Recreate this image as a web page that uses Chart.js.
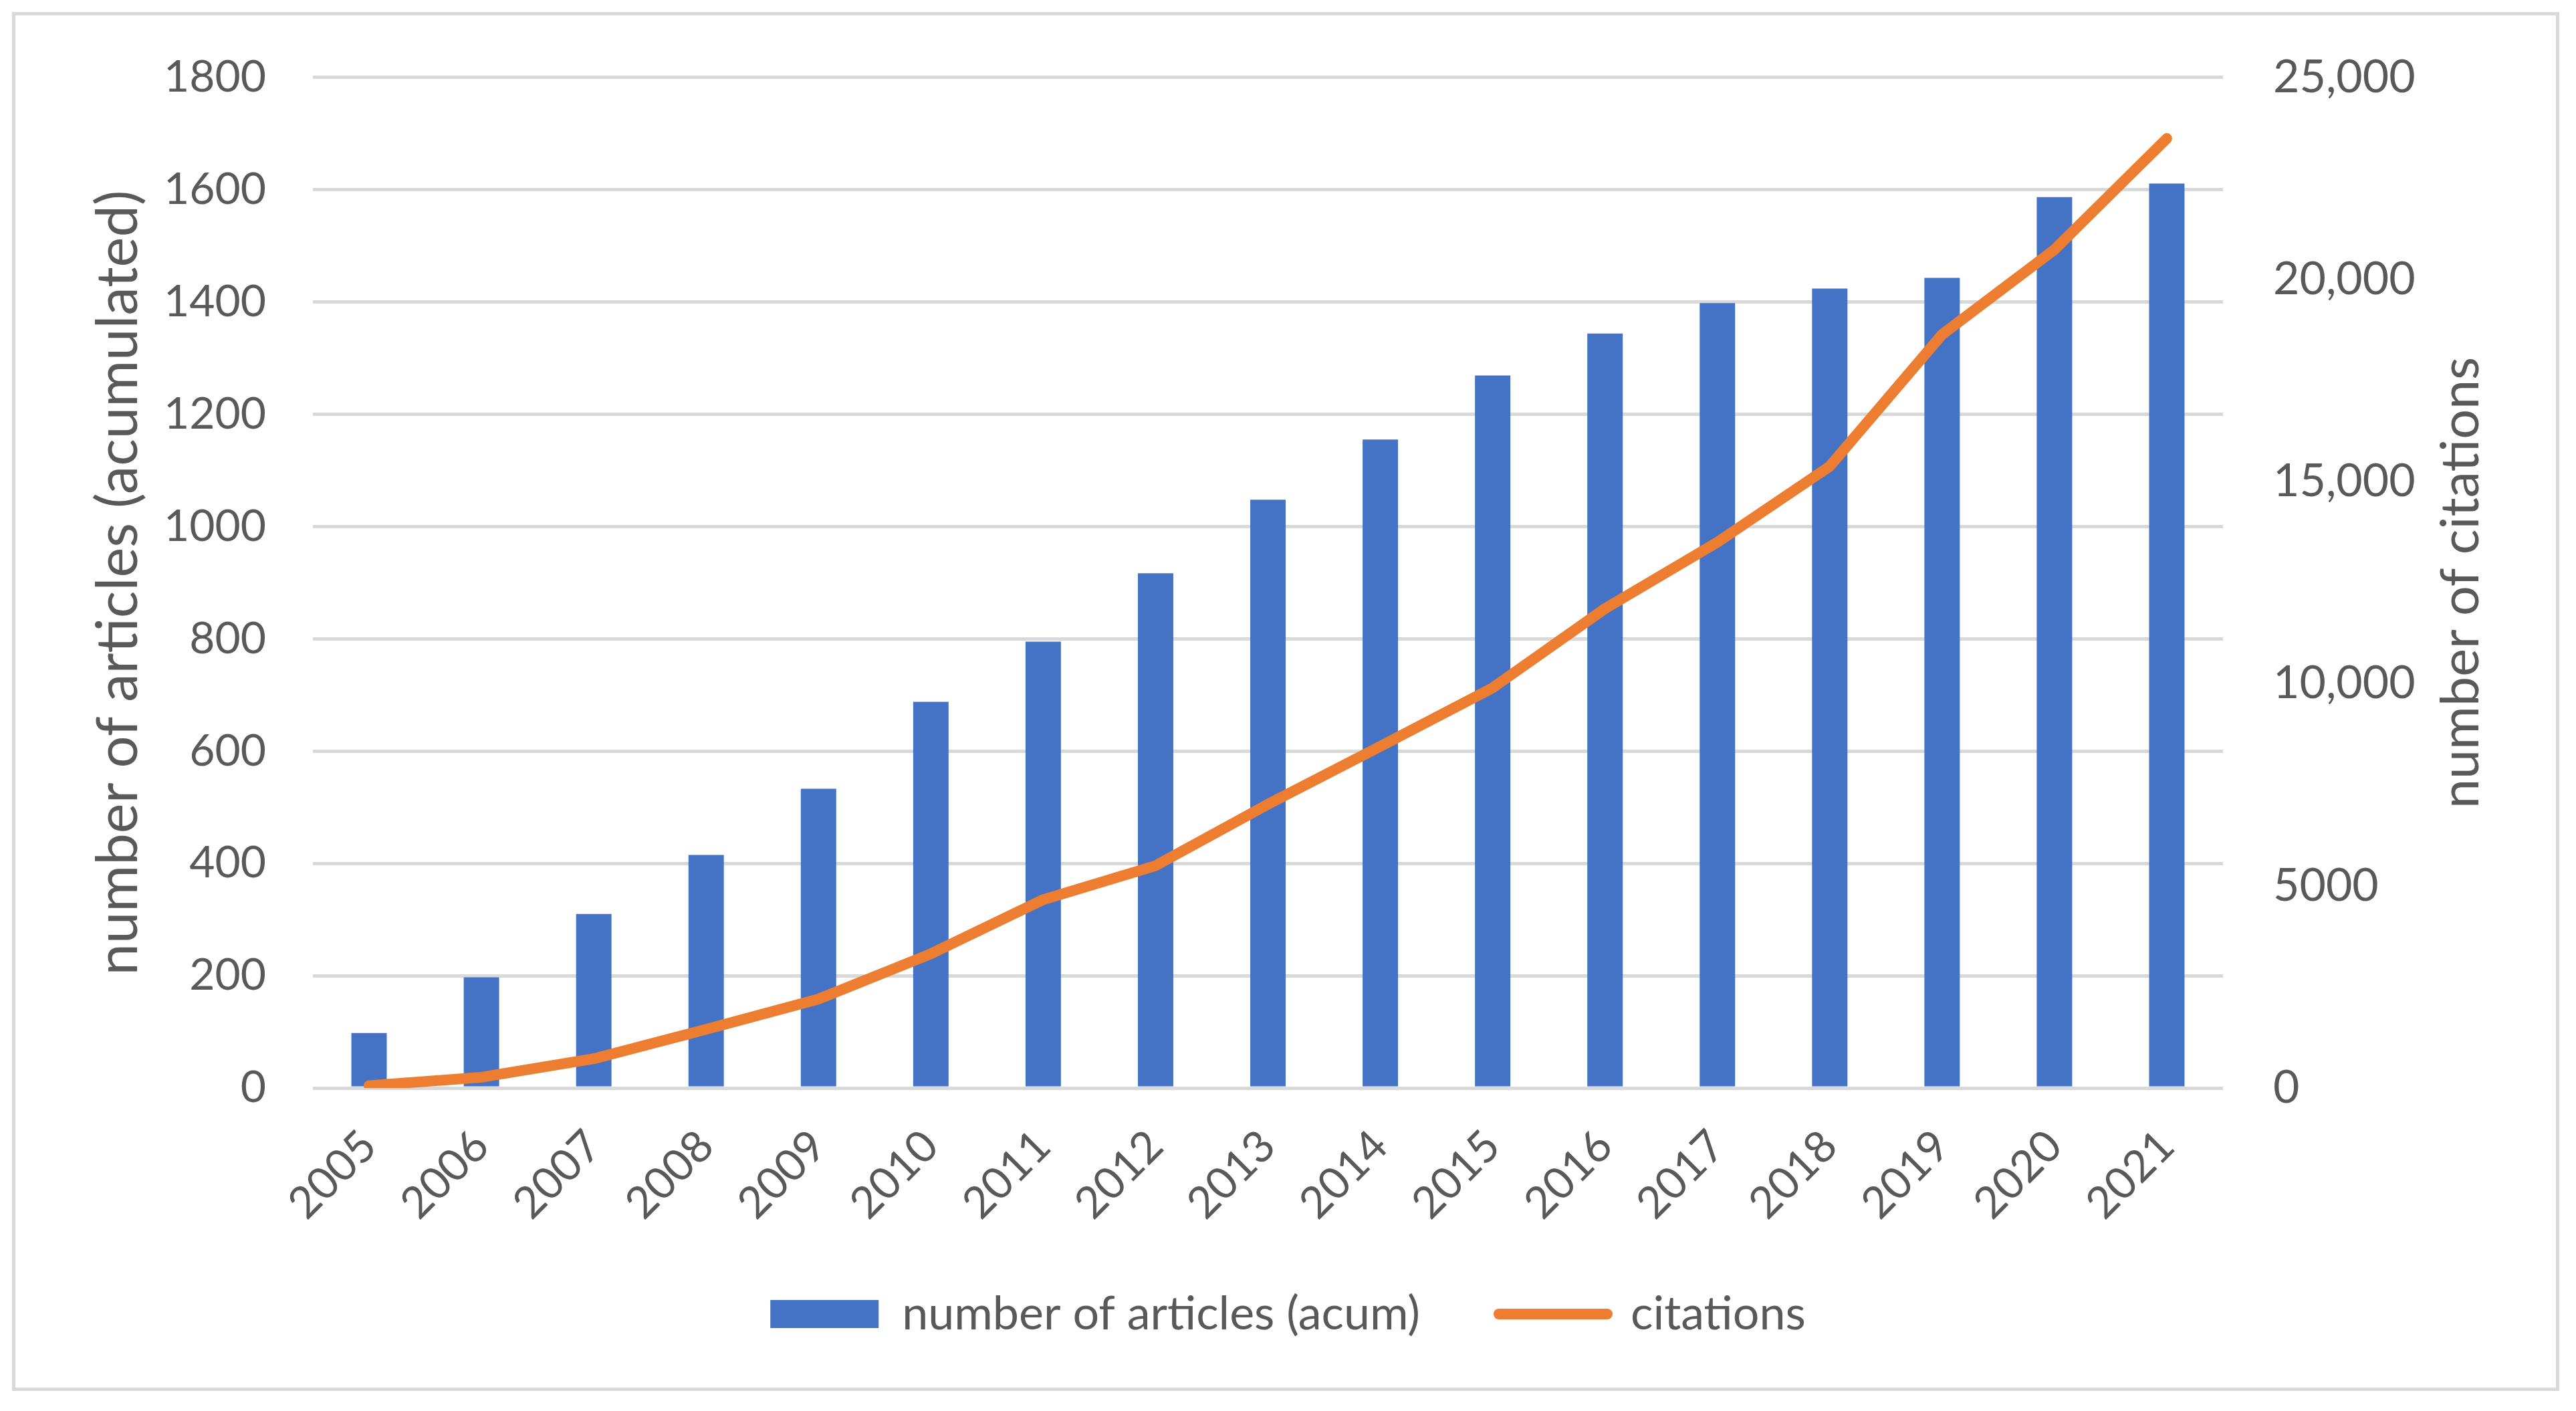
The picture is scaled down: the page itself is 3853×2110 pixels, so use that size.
<!DOCTYPE html>
<html>
<head>
<meta charset="utf-8">
<script src="https://cdn.jsdelivr.net/npm/chart.js@4"></script>
<style>
  html, body { margin: 0; padding: 0; background: #fff; }
  #wrap { position: relative; width: 3853px; height: 2110px; }
  #frame {
    position: absolute; left: 18px; top: 18px; width: 3810px; height: 2062px;
    border: 5px solid #d9d9d9; box-sizing: border-box; pointer-events: none;
  }
  canvas { position: absolute; left: 0; top: 0; }
</style>
</head>
<body>
<div id="wrap">
  <canvas id="chart" width="3853" height="2110"></canvas>
  <div id="frame"></div>
</div>
<script>
// data
const years = ["2005", "2006", "2007", "2008", "2009", "2010", "2011", "2012", "2013",
  "2014", "2015", "2016", "2017", "2018", "2019", "2020", "2021"];
const articlesAcum = [98, 197, 310, 415, 533, 688, 795, 917, 1048, 1155, 1269, 1344, 1398,
  1424, 1443, 1587, 1611];
const citations = [60, 265, 725, 1450, 2200, 3320, 4660, 5500, 7020, 8450, 9900, 11860,
  13500, 15380, 18640, 20740, 23490];

const textColor = "#595959";
const gridColor = "#d9d9d9";
const fontFamily = "Lato, 'Open Sans', sans-serif";
const rightTitle = "number of citations";

Chart.defaults.font.family = fontFamily;
Chart.defaults.color = textColor;

// right axis title reads bottom-to-top like the left one (Excel style)
const rightTitlePlugin = {
  id: "rightTitle",
  afterDraw(chart) {
    const { ctx, chartArea } = chart;
    ctx.save();
    ctx.translate(3682, (chartArea.top + chartArea.bottom) / 2);
    ctx.rotate(-Math.PI / 2);
    ctx.font = "79px " + fontFamily;
    ctx.fillStyle = textColor;
    ctx.textAlign = "center";
    ctx.textBaseline = "middle";
    ctx.fillText(rightTitle, 0, 0);
    ctx.restore();
  },
};

new Chart(document.getElementById("chart"), {
  type: "bar",
  data: {
    labels: years,
    datasets: [
      {
        type: "bar",
        label: "number of articles (acum)",
        data: articlesAcum,
        backgroundColor: "#4472c4",
        borderWidth: 0,
        barPercentage: 0.315,
        categoryPercentage: 1,
        yAxisID: "y",
        order: 1,
      },
      {
        type: "line",
        label: "citations",
        data: citations,
        borderColor: "#ed7d31",
        backgroundColor: "#ed7d31",
        borderWidth: 16,
        borderCapStyle: "round",
        borderJoinStyle: "round",
        pointRadius: 0,
        tension: 0,
        yAxisID: "y1",
        order: 0,
      },
    ],
  },
  options: {
    responsive: false,
    animation: false,
    devicePixelRatio: 1,
    layout: { padding: { top: 108, left: 0, right: 0, bottom: 100 } },
    plugins: {
      tooltip: { enabled: false },
      legend: {
        position: "bottom",
        labels: {
          usePointStyle: true,
          pointStyleWidth: 162,
          boxHeight: 42,
          padding: 118,
          font: { size: 70 },
          color: textColor,
          sort: (a, b) => a.datasetIndex - b.datasetIndex,
          generateLabels: (chart) => {
            const items = Chart.defaults.plugins.legend.labels.generateLabels(chart);
            items.forEach((it) => {
              if (it.datasetIndex === 0) { it.pointStyle = "rect"; it.lineWidth = 0; }
              else { it.pointStyle = "line"; it.lineWidth = 16; it.lineCap = "round"; }
            });
            return items;
          },
        },
      },
    },
    scales: {
      x: {
        grid: { display: false },
        border: { display: false },
        ticks: { font: { size: 66 }, maxRotation: 45, minRotation: 45, padding: 40 },
        afterFit: (scale) => {
          scale.height = 185;
          // rotated year labels run past the fixed box, so don't clip them
          scale._computeLabelArea = () => undefined;
        },
      },
      y: {
        position: "left",
        min: 0,
        max: 1800,
        ticks: { stepSize: 200, font: { size: 66 }, padding: 70, callback: (v) => String(v) },
        grid: { color: gridColor, lineWidth: 5, drawTicks: false },
        border: { display: false },
        title: {
          display: true,
          text: "number of articles (acumulated)",
          font: { size: 85 },
          color: textColor,
          padding: { top: 127, bottom: 0 },
        },
        afterFit: (scale) => { scale.width = 468; },
      },
      y1: {
        position: "right",
        min: 0,
        max: 25000,
        ticks: {
          stepSize: 5000,
          font: { size: 68 },
          padding: 75,
          callback: (v) => (v >= 10000 ? v.toLocaleString("en-US") : String(v)),
        },
        grid: { display: false, drawTicks: false },
        border: { display: false },
        afterFit: (scale) => { scale.width = 3853 - 3325; },
      },
    },
  },
  plugins: [rightTitlePlugin],
});
</script>
</body>
</html>
